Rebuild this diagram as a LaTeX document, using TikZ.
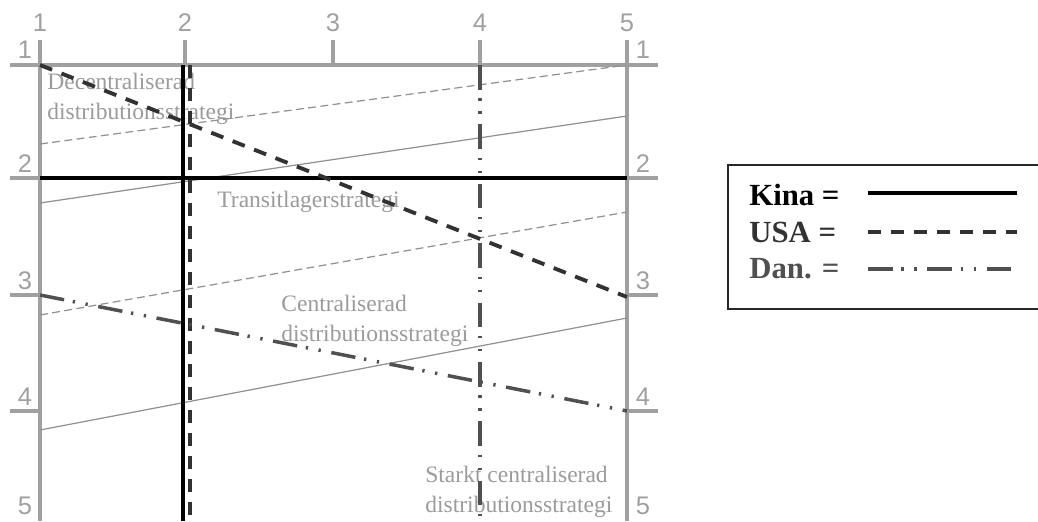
\documentclass[tikz,border=0pt]{standalone}
\usepackage{fontspec}
\setmainfont{Liberation Serif}
\setsansfont{Liberation Sans}
\usetikzlibrary{positioning}
\definecolor{DsAxis}{RGB}{160,160,160}
\definecolor{DsThin}{RGB}{145,145,145}
\definecolor{DsText}{RGB}{155,155,155}
\definecolor{DsUsa}{RGB}{50,50,50}
\definecolor{DsDan}{RGB}{80,80,80}
\tikzset{
  ds/axis/.style={draw=DsAxis, line width=2.2pt},
  ds/num/.style={font=\sffamily\fontsize{14.5}{15}\selectfont, text=DsAxis, inner sep=0pt},
  ds/bound/.style={draw=DsThin, line width=0.7pt},
  ds/dbound/.style={draw=DsThin, line width=0.7pt, dash pattern=on 4.5pt off 2.5pt},
  ds/label/.style={font=\fontsize{13.4}{17}\selectfont, text=DsText, align=left, inner sep=0pt, anchor=north west},
  ds/kina/.style={draw=black, line width=2.3pt},
  ds/usa/.style={draw=DsUsa, line width=2.2pt, dash pattern=on 7.4pt off 5.7pt},
  ds/dan/.style={draw=DsDan, line width=2pt, dash pattern=on 14pt off 5pt on 1.3pt off 6.1pt on 1.3pt off 6.1pt},
  ds/legend/.style={font=\bfseries\fontsize{17.5}{21}\selectfont, inner sep=0pt, anchor=base west},
  ds/box/.style={draw=black!85, line width=1.4pt}
}
\begin{document}
\begin{tikzpicture}[x=0.02cm,y=-0.02cm]
  \useasboundingbox (0,0) rectangle (1038,521);
  % frame and ticks
  \draw[ds/axis] (40,40) -- (40,521);
  \draw[ds/axis] (627,40) -- (627,521);
  \draw[ds/axis] (10,65) -- (658,65);
  \foreach \i/\x in {1/40,2/185,3/333,4/480,5/627}
  {\draw[ds/axis] (\x,40) -- (\x,65);
   \node[ds/num] (top\i) at (\x,23) {\i};}
  \foreach \i/\y in {1/65,2/178,3/295,4/411}
  {\draw[ds/axis] (10,\y) -- (40,\y);
   \draw[ds/axis] (627,\y) -- (658,\y);}
  \foreach \i/\y in {1/50,2/164,3/281,4/397,5/506}
  {\node[ds/num] (left\i) at (25,\y) {\i};
   \node[ds/num] (right\i) at (643,\y) {\i};}
  % end points on the two scales
  \foreach \n/\y in {1/65,2/178,3/295,4/411}
  {\coordinate (L\n) at (40,\y); \coordinate (R\n) at (627,\y);}
  \coordinate (Rusa) at (627,297);
  % strategy boundaries
  \coordinate (b1l) at (40,144);  \coordinate (b1r) at (627,65);
  \coordinate (b2l) at (40,203);  \coordinate (b2r) at (627,116);
  \coordinate (b3l) at (40,315);  \coordinate (b3r) at (627,212);
  \coordinate (b4l) at (40,430);  \coordinate (b4r) at (627,318);
  \draw[ds/dbound] (b1l) -- (b1r);
  \draw[ds/bound] (b2l) -- (b2r);
  \draw[ds/dbound] (b3l) -- (b3r);
  \draw[ds/bound] (b4l) -- (b4r);
  % strategy names
  \node[ds/label] (decentral) at (47,73) {Decentraliserad\\distributionsstrategi};
  \node[ds/label] (transit) at (217,191) {Transitlagerstrategi};
  \node[ds/label] (central) at (281,295) {Centraliserad\\distributionsstrategi};
  \node[ds/label] (starkt) at (425,466) {Starkt centraliserad\\distributionsstrategi};
  % countries
  \coordinate (kinaTop) at (183,65);  \coordinate (kinaBot) at (183,521);
  \coordinate (usaTop) at (190,65);   \coordinate (usaBot) at (190,521);
  \coordinate (danTop) at (480,65);   \coordinate (danBot) at (480,516);
  \draw[ds/kina] (L2) -- (R2);
  \draw[ds/kina] (kinaTop) -- (kinaBot);
  \draw[ds/usa] (L1) -- (Rusa);
  \draw[ds/usa] (usaTop) -- (usaBot);
  \draw[ds/dan] (L3) -- (R4);
  \draw[ds/dan] (danTop) -- (danBot);
  % legend
  \draw[ds/box] (728,165) rectangle (1048,309);
  \node[ds/legend] (kina) at (749,205) {Kina =};
  \node[ds/legend, text=DsUsa] (usa) at (749,242) {USA =};
  \node[ds/legend, text=DsDan] (dan) at (749,278) {Dan. =};
  \coordinate (kinaA) at (868,193);  \coordinate (kinaB) at (1017,193);
  \coordinate (usaA) at (868,232);   \coordinate (usaB) at (1017,232);
  \coordinate (danA) at (868,269);   \coordinate (danB) at (1017,269);
  \draw[ds/kina, line width=2.5pt] (kinaA) -- (kinaB);
  \draw[ds/usa] (usaA) -- (usaB);
  \draw[ds/dan] (danA) -- (danB);
\end{tikzpicture}
\end{document}
